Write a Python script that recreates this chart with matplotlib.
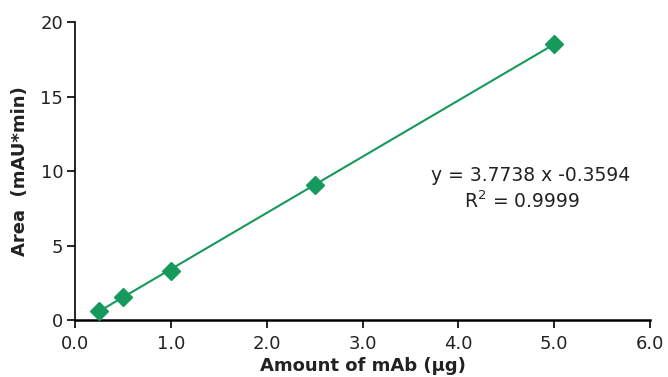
import matplotlib
matplotlib.use("Agg")
import matplotlib.pyplot as plt
import numpy as np

amount_ug = [0.25, 0.5, 1.0, 2.5, 5.0]
area = [0.6, 1.55, 3.3, 9.05, 18.5]
slope = 3.7738
intercept = -0.3594
r_squared = 0.9999

green = "#16995c"
text_color = "#222222"

plt.rcParams["font.family"] = "DejaVu Sans"

fig = plt.figure(figsize=(6.68, 3.77), dpi=100)
ax = fig.add_axes([0.1123, 0.151, 0.8608, 0.7906])

x_fit = np.array([amount_ug[0], amount_ug[-1]])
ax.plot(x_fit, slope * x_fit + intercept, color=green, linewidth=1.5, zorder=2)
ax.plot(amount_ug, area, linestyle="none", marker="D", markersize=9,
        color=green, zorder=3)

ax.set_xlim(0, 6)
ax.set_ylim(0, 20)
ax.set_xticks(np.arange(0, 6.5, 1.0))
ax.set_xticklabels([f"{v:.1f}" for v in np.arange(0, 6.5, 1.0)])
ax.set_yticks([0, 5, 10, 15, 20])

for side in ("top", "right"):
    ax.spines[side].set_visible(False)
ax.spines["left"].set_linewidth(1.2)
ax.spines["bottom"].set_linewidth(1.8)
ax.tick_params(axis="both", direction="out", length=5.5, width=1.2, pad=3,
               labelsize=13, colors="black", labelcolor=text_color)
ax.tick_params(axis="x", pad=5)

ax.set_xlabel("Amount of mAb (µg)", fontsize=13, fontweight="bold",
              color=text_color, labelpad=3)
ax.set_ylabel("Area  (mAU*min)", fontsize=13, fontweight="bold",
              color=text_color, labelpad=8)

ax.text(4.75, 9.73, f"y = {slope:.4f} x {intercept:.4f}", fontsize=13.5,
        ha="center", va="center", color=text_color)
ax.text(4.66, 7.95, f"R$^2$ = {r_squared:.4f}", fontsize=13.5,
        ha="center", va="center", color=text_color)

fig.savefig("out.png", dpi=100)
